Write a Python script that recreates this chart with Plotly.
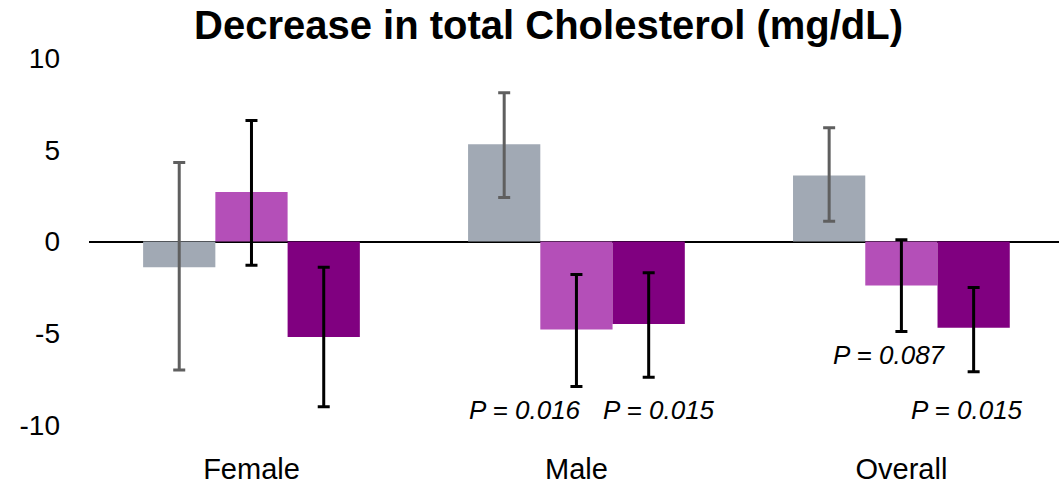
import plotly.graph_objects as go

categories = ["Female", "Male", "Overall"]
series_names = ["Control", "Treatment A", "Treatment B"]
values = {
    "Control": [-1.4, 5.3, 3.6],
    "Treatment A": [2.7, -4.8, -2.4],
    "Treatment B": [-5.2, -4.5, -4.7],
}
err_upper = {
    "Control": [5.7, 2.8, 2.6],
    "Treatment A": [3.9, 3.0, 2.5],
    "Treatment B": [3.8, 2.8, 2.2],
}
err_lower = {
    "Control": [5.6, 2.9, 2.5],
    "Treatment A": [4.0, 3.1, 2.5],
    "Treatment B": [3.8, 2.9, 2.4],
}
colors = {"Control": "#A1A9B4", "Treatment A": "#B44FB8", "Treatment B": "#800080"}
err_colors = {"Control": "#5F5F5F", "Treatment A": "#000000", "Treatment B": "#000000"}

p_text = ["P = 0.016", "P = 0.015", "P = 0.087", "P = 0.015"]
p_cat = ["Male", "Male", "Overall", "Overall"]
p_y = [-9.2, -9.2, -6.2, -9.2]
p_xshift = [-51, 83, -12, 66]

y_ticks = [10, 5, 0, -5, -10]

fig = go.Figure()
for s in series_names:
    fig.add_trace(go.Bar(
        x=categories, y=values[s], name=s,
        marker=dict(color=colors[s], line=dict(width=0)),
        error_y=dict(type="data", symmetric=False, array=err_upper[s],
                     arrayminus=err_lower[s], color=err_colors[s],
                     thickness=3, width=6),
    ))

for t, c, yv, xs in zip(p_text, p_cat, p_y, p_xshift):
    fig.add_annotation(x=c, y=yv, text="<i>" + t + "</i>", showarrow=False, xshift=xs,
                       font=dict(family="Liberation Sans", size=26, color="black"),
                       xanchor="center", yanchor="middle")

fig.update_layout(
    width=1059, height=484,
    margin=dict(l=89, r=0, t=58, b=59),
    paper_bgcolor="white", plot_bgcolor="white",
    barmode="group", bargap=0.333, bargroupgap=0,
    showlegend=False,
    font=dict(family="Liberation Sans", color="black"),
    title=dict(text="<b>Decrease in total Cholesterol (mg/dL)</b>",
               x=0.518, xanchor="center", y=0.948, yanchor="middle",
               font=dict(size=40, family="Liberation Sans", color="black")),
)
fig.update_xaxes(range=[-0.5, 2.485], showline=False, showgrid=False, zeroline=False,
                 ticks="", tickfont=dict(size=29), ticklabelstandoff=24)
fig.update_yaxes(range=[-10, 10], tickvals=y_ticks, ticktext=[str(v) for v in y_ticks],
                 showgrid=False, showline=False, zeroline=True, zerolinecolor="black",
                 zerolinewidth=2, ticks="", tickfont=dict(size=28), ticklabelstandoff=28)

fig.write_html("out.html", config={"displayModeBar": False},
               post_script="document.body.style.margin='0';document.body.style.overflow='hidden';")
